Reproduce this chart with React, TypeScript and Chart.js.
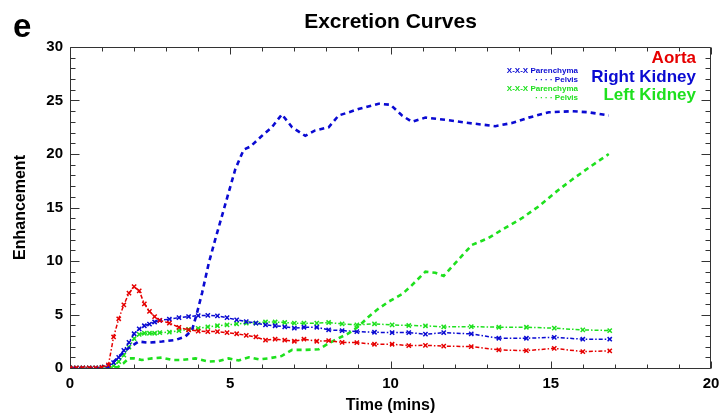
import React, { useEffect, useRef } from "react";
import { Chart, registerables } from "chart.js";

Chart.register(...registerables);

const FONT = "'Liberation Sans', Arial, Helvetica, sans-serif";
const RED = "#e60000";
const BLUE = "#0a0ad2";
const GREEN = "#1ee01e";

// sample times (minutes) for aorta and parenchyma curves
const paraTimes = [
  0, 0.2, 0.4, 0.6, 0.8, 1.0, 1.2,
  1.36, 1.52, 1.68, 1.84, 2.0, 2.16, 2.32, 2.48, 2.64, 2.8,
  3.1, 3.4, 3.7, 4.0, 4.3, 4.6, 4.9, 5.2, 5.5, 5.8, 6.1, 6.4, 6.7, 7.0, 7.3,
  7.7, 8.07, 8.49, 8.95, 9.5, 10.05, 10.57, 11.09, 11.66,
  12.52, 13.38, 14.24, 15.11, 16.0, 16.84,
];
const aortaValues = [
  0, 0, 0, 0, 0, 0.05, 0.3,
  2.9, 4.6, 5.9, 7.0, 7.6, 7.2, 6.0, 5.3, 4.8, 4.45,
  4.2, 3.8, 3.56, 3.45, 3.4, 3.4, 3.3, 3.2, 3.05, 2.9, 2.6, 2.7, 2.6, 2.5, 2.69,
  2.5, 2.56, 2.4, 2.37, 2.22, 2.22, 2.09, 2.12, 2.05,
  2.0, 1.69, 1.62, 1.84, 1.53, 1.6,
];
const rightParenchyma = [
  0, 0, 0, 0, 0, 0.05, 0.2,
  0.5, 1.0, 1.65, 2.4, 3.2, 3.65, 3.95, 4.1, 4.3, 4.45,
  4.56, 4.71, 4.81, 4.9, 4.92, 4.87, 4.7, 4.5, 4.34, 4.2, 4.03, 3.95, 3.85, 3.72, 3.81,
  3.81, 3.56, 3.5, 3.4, 3.34, 3.31, 3.31, 3.16, 3.3,
  3.19, 2.78, 2.78, 2.87, 2.69, 2.69,
];
const leftParenchyma = [
  0, 0, 0, 0, 0, 0, 0,
  0.2, 0.6, 1.2, 1.95, 2.75, 3.15, 3.25, 3.25, 3.25, 3.3,
  3.35, 3.5, 3.6, 3.7, 3.85, 3.95, 4.03, 4.12, 4.19, 4.2, 4.3, 4.3, 4.25, 4.19, 4.19,
  4.19, 4.25, 4.12, 4.03, 4.12, 4.03, 3.97, 3.94, 3.84,
  3.87, 3.81, 3.81, 3.72, 3.56, 3.5,
];

// right kidney pelvis
const rightPelvisTimes = [
  0, 0.5, 1.0, 1.2, 1.52, 1.84, 2.14, 2.45, 2.87, 3.29,
  3.6, 3.81, 3.96, 4.12, 4.33, 4.53, 4.74, 4.95, 5.16, 5.42,
  5.63, 5.99, 6.3, 6.61, 6.93, 7.34, 7.65, 8.07, 8.38, 8.7,
  9.0, 9.63, 10.0, 10.36, 10.67, 11.09, 11.71, 12.44, 13.27, 13.79,
  14.31, 14.94, 15.66, 16.18, 16.81,
];
const rightPelvisValues = [
  0, 0, 0, 0.1, 1.06, 1.9, 2.47, 2.37, 2.47, 2.62,
  2.94, 3.56, 5.12, 7.0, 9.8, 12.0, 14.2, 16.4, 18.6, 20.4,
  20.7, 21.7, 22.5, 23.7, 22.5, 21.7, 22.2, 22.5, 23.6, 23.9,
  24.2, 24.7, 24.6, 23.6, 23.0, 23.4, 23.2, 22.9, 22.6, 22.9,
  23.4, 23.9, 24.0, 23.9, 23.6,
];

// left kidney pelvis
const leftPelvisTimes = [
  0, 0.5, 1.0, 1.3, 1.5, 1.67, 1.83, 1.99, 2.24, 2.56,
  2.87, 3.18, 3.49, 3.91, 4.33, 4.64, 4.95, 5.26, 5.58, 5.9,
  6.2, 6.6, 6.93, 7.34, 7.76, 8.07, 8.38, 8.7, 9.0, 9.32,
  9.58, 9.94, 10.36, 10.62, 11.09, 11.4, 11.66, 12.02, 12.54, 13.06,
  13.58, 14.1, 14.62, 15.14, 15.66, 16.18, 16.81,
];
const leftPelvisValues = [
  0, 0, 0, 0.05, 0.1, 0.44, 0.9, 0.9, 0.75, 0.9,
  0.97, 0.75, 0.75, 0.9, 0.6, 0.65, 0.9, 0.7, 1.0, 0.8,
  0.9, 1.12, 1.69, 1.69, 1.75, 2.3, 2.78, 3.25, 3.87, 4.8,
  5.44, 6.2, 6.9, 7.6, 9.0, 8.9, 8.6, 9.8, 11.5, 12.15,
  13.1, 14.0, 15.1, 16.4, 17.6, 18.7, 20.0,
];

const X_MIN = 0;
const X_MAX = 20;
const Y_MIN = 0;
const Y_MAX = 30;
const X_MAJOR = 5;
const Y_MAJOR = 5;

const TITLE = "Excretion Curves";
const PANEL_LABEL = "e";
const X_TITLE = "Time (mins)";
const Y_TITLE = "Enhancement";
const legendNames = ["Aorta", "Right Kidney", "Left Kidney"];
const legendColors = [RED, BLUE, GREEN];
const subLegend = ["X-X-X Parenchyma", "\u00B7 \u00B7 \u00B7 \u00B7 Pelvis"];

const pts = (xs: number[], ys: number[]) => xs.map((x, i) => ({ x, y: ys[i] }));

const decorPlugin = {
  id: "decor",
  beforeDatasetsDraw(chart: any) {
    const { ctx, chartArea: a, scales } = chart;
    const xs = scales.x;
    const ys = scales.y;
    const L = Math.round(a.left) + 0.5;
    const R = Math.round(a.right) - 0.5;
    const T = Math.round(a.top) + 0.5;
    const B = Math.round(a.bottom) + 0.5;
    ctx.save();
    ctx.strokeStyle = "#333";
    ctx.lineWidth = 1;
    ctx.beginPath();
    ctx.rect(L, T, R - L, B - T);
    for (let t = X_MIN; t <= X_MAX; t += 1) {
      const px = Math.round(xs.getPixelForValue(t)) + 0.5;
      const len = t % X_MAJOR === 0 ? 7 : 4;
      ctx.moveTo(px, B);
      ctx.lineTo(px, B - len);
      ctx.moveTo(px, T);
      ctx.lineTo(px, T + len);
    }
    for (let v = Y_MIN; v <= Y_MAX; v += 1) {
      const py = Math.round(ys.getPixelForValue(v)) + 0.5;
      const len = v % Y_MAJOR === 0 ? 9 : 5;
      ctx.moveTo(L, py);
      ctx.lineTo(L + len, py);
      ctx.moveTo(R, py);
      ctx.lineTo(R - len, py);
    }
    ctx.stroke();
    ctx.restore();
  },
  afterDraw(chart: any) {
    const { ctx, chartArea: a } = chart;
    ctx.save();
    ctx.fillStyle = "#000";
    ctx.textBaseline = "alphabetic";
    ctx.font = `bold 21px ${FONT}`;
    ctx.textAlign = "center";
    ctx.fillText(TITLE, (a.left + a.right) / 2, 28);
    ctx.font = `bold 33px ${FONT}`;
    ctx.textAlign = "left";
    ctx.fillText(PANEL_LABEL, 13, 37);

    ctx.textAlign = "right";
    ctx.font = `bold 17px ${FONT}`;
    const bigBase = [63, 81.5, 100];
    legendNames.forEach((n, i) => {
      ctx.fillStyle = legendColors[i];
      ctx.fillText(n, 696, bigBase[i]);
    });
    ctx.font = `bold 8px ${FONT}`;
    const smallBase = [72.5, 81.5, 90.5, 100];
    [BLUE, GREEN].forEach((c, k) => {
      ctx.fillStyle = c;
      ctx.fillText(subLegend[0], 578, smallBase[k * 2]);
      ctx.fillText(subLegend[1], 578, smallBase[k * 2 + 1]);
    });
    ctx.restore();
  },
};

export default function App() {
  const ref = useRef<HTMLCanvasElement | null>(null);

  useEffect(() => {
    if (!ref.current) return;
    const paraStyle = (color: string) => ({
      borderColor: color,
      backgroundColor: color,
      borderWidth: 1.5,
      borderDash: [4, 2, 1.5, 2],
      pointStyle: "crossRot",
      pointRadius: 3,
      pointBorderWidth: 1.5,
      pointBorderColor: color,
      tension: 0,
      fill: false,
    });
    const pelvisStyle = (color: string) => ({
      borderColor: color,
      backgroundColor: color,
      borderWidth: 2.6,
      borderDash: [5, 4],
      pointRadius: 0,
      tension: 0,
      fill: false,
    });
    const chart = new Chart(ref.current, {
      type: "line",
      data: {
        datasets: [
          { label: "Aorta", data: pts(paraTimes, aortaValues), ...paraStyle(RED) },
          { label: "Right Kidney Pelvis", data: pts(rightPelvisTimes, rightPelvisValues), ...pelvisStyle(BLUE) },
          { label: "Left Kidney Pelvis", data: pts(leftPelvisTimes, leftPelvisValues), ...pelvisStyle(GREEN) },
          { label: "Right Kidney Parenchyma", data: pts(paraTimes, rightParenchyma), ...paraStyle(BLUE) },
          { label: "Left Kidney Parenchyma", data: pts(paraTimes, leftParenchyma), ...paraStyle(GREEN) },
        ] as any,
      },
      options: {
        responsive: false,
        animation: false,
        maintainAspectRatio: false,
        layout: { padding: { top: 47, right: 10, left: 0, bottom: 0 } },
        plugins: {
          legend: { display: false },
          title: { display: false },
          tooltip: { enabled: false },
        },
        scales: {
          x: {
            type: "linear",
            min: X_MIN,
            max: X_MAX,
            grid: { display: false, drawTicks: false },
            border: { display: false },
            ticks: {
              stepSize: X_MAJOR,
              color: "#000",
              padding: 7,
              maxRotation: 0,
              font: { family: FONT, size: 15, weight: "bold" },
            },
            title: {
              display: true,
              text: X_TITLE,
              color: "#000",
              padding: { top: 0, bottom: 0 },
              font: { family: FONT, size: 16, weight: "bold" },
            },
            afterFit: (s: any) => {
              s.height = 47;
              s.paddingLeft = 0;
              s.paddingRight = 0;
            },
          },
          y: {
            min: Y_MIN,
            max: Y_MAX,
            grid: { display: false, drawTicks: false },
            border: { display: false },
            ticks: {
              stepSize: Y_MAJOR,
              color: "#000",
              padding: 7,
              font: { family: FONT, size: 15, weight: "bold" },
            },
            title: {
              display: true,
              text: Y_TITLE,
              color: "#000",
              padding: { top: 11, bottom: 0 },
              font: { family: FONT, size: 16, weight: "bold" },
            },
            afterFit: (s: any) => {
              s.width = 70;
              s.paddingTop = 0;
              s.paddingBottom = 0;
            },
          },
        },
      } as any,
      plugins: [decorPlugin],
    });
    return () => chart.destroy();
  }, []);

  return (
    <div style={{ position: "fixed", left: 0, top: 0, width: 721, height: 415, background: "#fff" }}>
      <canvas ref={ref} width={721} height={415} style={{ width: 721, height: 415, display: "block" }} />
    </div>
  );
}
